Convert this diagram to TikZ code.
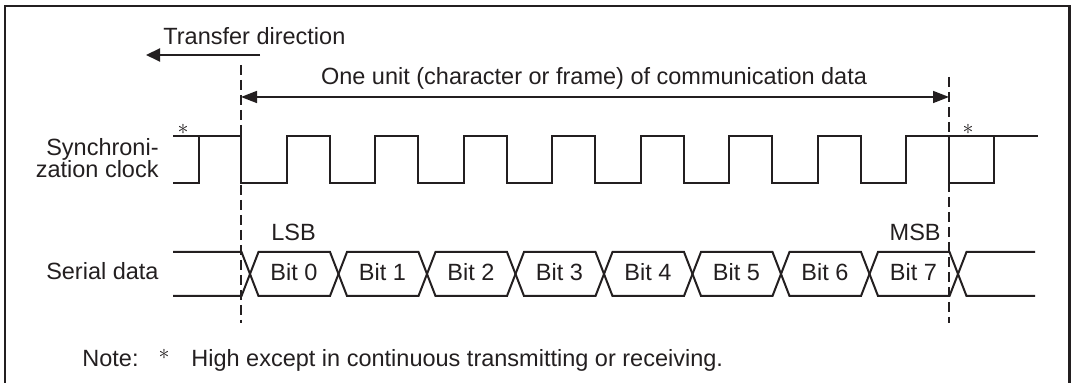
\documentclass[tikz,border=0pt]{standalone}
\usepackage{fontspec}
\setmainfont{Liberation Sans}
\usetikzlibrary{arrows.meta,positioning}
\definecolor{sigblack}{RGB}{35,31,32}
\tikzset{
  sigline/.style ={draw=sigblack, line width=1pt, line join=miter},
  markline/.style={draw=sigblack, line width=0.6pt, dash pattern=on 5pt off 2.5pt},
  lbl/.style     ={inner sep=0pt, font=\fontsize{11.75}{11}\selectfont, text=sigblack},
  bitlbl/.style  ={lbl, anchor=base},
  starlbl/.style ={inner sep=0pt, font=\fontsize{10.5}{10.5}\selectfont, text=sigblack},
  arr/.style     ={-{Triangle[length=7pt,width=6.5pt]}, draw=sigblack, line width=1pt},
  darr/.style    ={{Triangle[length=8pt,width=6pt]}-{Triangle[length=8pt,width=6pt]},
                   draw=sigblack, line width=0.8pt},
}

\begin{document}
\begin{tikzpicture}[x=0.5pt,y=-0.5pt]
  \useasboundingbox (0,0) rectangle (1072,383);
  % frame (open at the bottom)
  \draw[sigblack, line width=1.25pt] (5,383) -- (5,6) -- (1069.5,6) -- (1069.5,383);

  % transfer direction
  \node[lbl, anchor=base west] (xfer) at (163,45) {Transfer direction};
  \coordinate (xfertail) at (260,55);
  \coordinate (xfertip)  at (146,55);
  \draw[arr] (xfertail) -- (xfertip);

  % frame marks and unit arrow
  \coordinate (lmtop) at (241,65);  \coordinate (lmbot) at (241,323);
  \coordinate (rmtop) at (949,77);  \coordinate (rmbot) at (949,323);
  \draw[markline] (lmtop) -- (lmbot);
  \draw[markline] (rmtop) -- (rmbot);
  \node[lbl, anchor=base] (unit) at (594,85) {One unit (character or frame) of communication data};
  \coordinate (unitl) at (241,97);
  \coordinate (unitr) at (949,97);
  \draw[darr] (unitl) -- (unitr);

  % synchronization clock
  \node[lbl, anchor=north east, align=right] (clk) at (159,138) {Synchroni-\\zation clock};
  \draw[sigline] (173,136) -- (241,136)
    \foreach \i in {1,...,8}{ -- ++(0,47) -- ++(45.5,0) -- ++(0,-47) -- ++(43,0)}
    -- (1038,136);
  \draw[sigline] (173,183) -| (199,136);
  \draw[sigline] (949,136) |- (994,183) -- (994,136);
  \node[starlbl] (clkstarl) at (183,129) {$\ast$};
  \node[starlbl] (clkstarr) at (968,129) {$\ast$};

  % serial data
  \node[lbl, anchor=base east] (ser) at (159,280) {Serial data};
  \draw[sigline] (173,252) -- (241.5,252) -- (250,274) -- (241.5,296) -- (173,296);
  \draw[sigline] (1035,252) -- (966.5,252) -- (958,274) -- (966.5,296) -- (1035,296);
  \foreach \k in {0,...,7}{
    \draw[sigline] ({250+88.5*\k},274) -- ++(8.5,-22) -- ++(71.5,0) -- ++(8.5,22)
      -- ++(-8.5,22) -- ++(-71.5,0) -- cycle;
    \node[bitlbl] (bit\k) at ({294+88.5*\k},281) {Bit \k};
  }
  \node[lbl, anchor=base] (lsb) at (293.5,241) {LSB};
  \node[lbl, anchor=base east] (msb) at (941,241) {MSB};

  % note
  \node[lbl, anchor=base west] (note) at (82,367) {Note:};
  \node[starlbl] (notestar) at (164,354) {$\ast$};
  \node[lbl, anchor=base west] (notetxt) at (191,367) {High except in continuous transmitting or receiving.};
\end{tikzpicture}
\end{document}
